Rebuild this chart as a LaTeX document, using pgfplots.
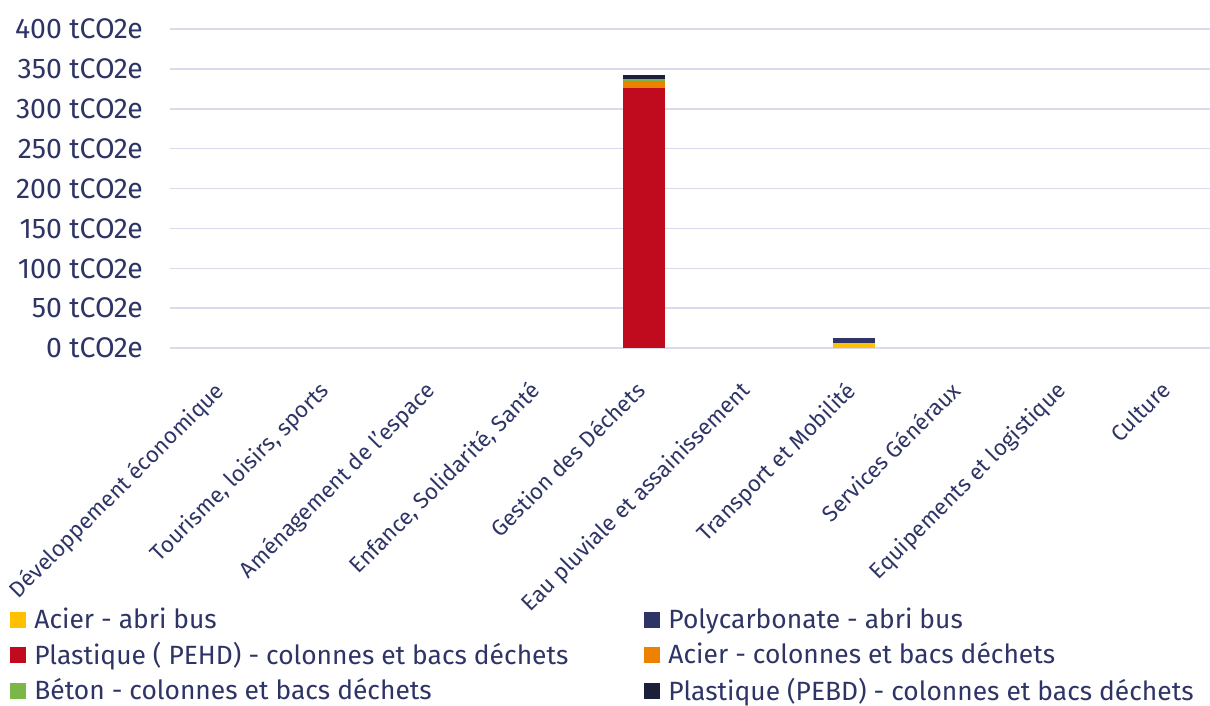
\documentclass[border=0pt]{standalone}
\usepackage{pgfplots}
\pgfplotsset{compat=1.18}
\usepackage{fontspec}
\setmainfont{Fira Sans}
\definecolor{txt}{HTML}{2E3566}
\definecolor{gridc}{HTML}{D9DAEA}
\definecolor{cYel}{HTML}{FFC000}
\definecolor{cPoly}{HTML}{2E3566}
\definecolor{cRed}{HTML}{C00A1E}
\definecolor{cOra}{HTML}{EE8100}
\definecolor{cGre}{HTML}{7AB648}
\definecolor{cDark}{HTML}{1C1F3A}
\begin{document}
\begin{tikzpicture}[font=\fontsize{13.2}{15}\selectfont, text=txt]
\useasboundingbox (-85pt,-179pt) rectangle (520pt,174pt);
\begin{axis}[
  at={(0,0)}, anchor=south west,
  scale only axis, width=520pt, height=159.5pt,
  ybar stacked, bar width=21pt,
  xmin=-0.5, xmax=9.3811, ymin=0, ymax=400,
  xtick={0,...,9},
  xticklabels={Développement économique, {Tourisme, loisirs, sports}, Aménagement de l'espace, {Enfance, Solidarité, Santé}, Gestion des Déchets, Eau pluviale et assainissement, Transport et Mobilité, Services Généraux, Equipements et logistique, Culture},
  xticklabel style={rotate=45, anchor=north east, inner sep=0pt, xshift=-14.5pt, yshift=-7.5pt, font=\fontsize{11.2}{13}\selectfont},
  ytick={0,50,...,400},
  yticklabel={\pgfmathprintnumber{\tick} tCO2e},
  yticklabel style={anchor=east, xshift=-10pt, font=\fontsize{14.2}{16}\selectfont},
  /pgf/number format/assume math mode=true,
  major tick length=0pt,
  axis line style={draw=none},
  xmajorgrids=false,
  ymajorgrids=true, grid style={draw=gridc, line width=0.75pt},
  legend columns=2,
  legend cell align=left,
  legend style={at={(-80pt,-127.8pt)}, anchor=north west, draw=none, fill=none, inner sep=0pt, row sep=1.3pt,
    nodes={inner xsep=4pt},
    /tikz/every even column/.append style={column sep=34pt}},
  legend image code/.code={\fill[#1] (0pt,-4pt) rectangle (8pt,4pt);},
]
\addplot[fill=cYel, draw=none] coordinates {(0,0) (1,0) (2,0) (3,0) (4,0) (5,0) (6,6) (7,0) (8,0) (9,0)};
\addlegendentry{Acier - abri bus}
\addplot[fill=cPoly, draw=none] coordinates {(0,0) (1,0) (2,0) (3,0) (4,0) (5,0) (6,6.5) (7,0) (8,0) (9,0)};
\addlegendentry{Polycarbonate - abri bus}
\addplot[fill=cRed, draw=none] coordinates {(0,0) (1,0) (2,0) (3,0) (4,326) (5,0) (6,0) (7,0) (8,0) (9,0)};
\addlegendentry{Plastique ( PEHD) - colonnes et bacs déchets}
\addplot[fill=cOra, draw=none] coordinates {(0,0) (1,0) (2,0) (3,0) (4,8.5) (5,0) (6,0) (7,0) (8,0) (9,0)};
\addlegendentry{Acier - colonnes et bacs déchets}
\addplot[fill=cGre, draw=none] coordinates {(0,0) (1,0) (2,0) (3,0) (4,3) (5,0) (6,0) (7,0) (8,0) (9,0)};
\addlegendentry{Béton - colonnes et bacs déchets}
\addplot[fill=cDark, draw=none] coordinates {(0,0) (1,0) (2,0) (3,0) (4,5) (5,0) (6,0) (7,0) (8,0) (9,0)};
\addlegendentry{Plastique (PEBD) - colonnes et bacs déchets}
\end{axis}
\end{tikzpicture}
\end{document}
